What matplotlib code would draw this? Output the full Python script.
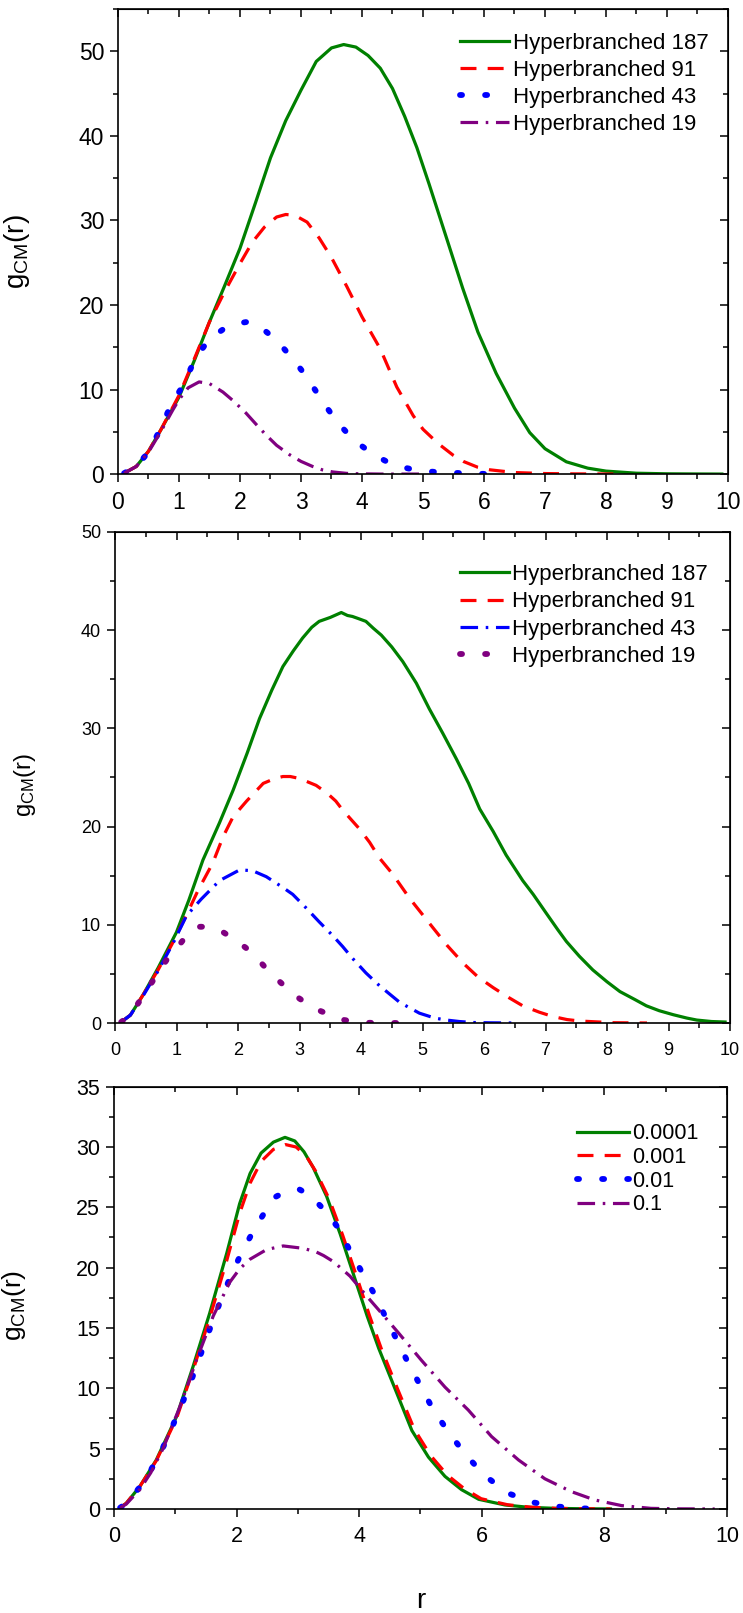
import matplotlib
matplotlib.use("Agg")
import matplotlib.pyplot as plt
from matplotlib.ticker import MultipleLocator

plt.rcParams['font.family'] = ['Liberation Sans', 'DejaVu Sans']
plt.rcParams['mathtext.fontset'] = 'custom'
plt.rcParams['mathtext.rm'] = 'Liberation Sans'
plt.rcParams['mathtext.it'] = 'Liberation Sans:italic'

# ---------------- Panel 1 data ----------------
p1_labels = ["Hyperbranched 187", "Hyperbranched 91", "Hyperbranched 43", "Hyperbranched 19"]
p1_r187 = [0.1, 0.3, 0.5, 0.7, 1.0, 1.25, 1.5, 1.75, 2.0, 2.25, 2.5, 2.75, 3.0, 3.25, 3.5, 3.7, 3.9, 4.1, 4.3,
           4.5, 4.7, 4.9, 5.1, 5.4, 5.65, 5.9, 6.2, 6.5, 6.75, 7.0, 7.35, 7.7, 8.0, 8.5, 9.0, 9.5, 9.9]
p1_g187 = [0.1, 0.9, 2.7, 5.2, 9.1, 13.4, 18.0, 22.3, 26.7, 32.0, 37.4, 41.8, 45.4, 48.8, 50.4, 50.8, 50.5, 49.5, 48.0,
           45.6, 42.3, 38.6, 34.3, 27.6, 22.0, 16.8, 11.9, 7.8, 4.9, 3.0, 1.45, 0.7, 0.35, 0.1, 0.03, 0.01, 0.0]
p1_r91 = [0.1, 0.3, 0.5, 0.7, 1.0, 1.25, 1.5, 1.75, 2.0, 2.2, 2.4, 2.6, 2.75, 2.9, 3.1, 3.3, 3.5, 3.75, 4.0, 4.3,
          4.57, 4.84, 5.0, 5.25, 5.5, 5.66, 5.9, 6.1, 6.5, 7.0, 7.5, 8.2]
p1_g91 = [0.1, 0.9, 2.7, 5.2, 9.3, 13.6, 18.0, 21.6, 24.9, 27.4, 29.2, 30.4, 30.7, 30.6, 29.8, 27.9, 25.6, 22.2, 18.6,
          14.8, 10.3, 6.9, 5.3, 3.6, 2.2, 1.5, 0.8, 0.5, 0.18, 0.06, 0.02, 0.0]
p1_r43 = [0.1, 0.3, 0.5, 0.7, 0.87, 1.06, 1.27, 1.5, 1.74, 1.95, 2.12, 2.3, 2.52, 2.7, 2.88, 3.05, 3.18, 3.32, 3.45,
          3.6, 3.79, 4.0, 4.19, 4.4, 4.57, 4.8, 4.96, 5.2, 5.36, 5.74, 6.1]
p1_g43 = [0.1, 0.9, 2.6, 5.4, 8.2, 10.4, 13.7, 16.0, 17.2, 17.8, 18.0, 17.6, 16.3, 15.0, 13.5, 11.9, 10.5, 9.0, 7.6,
          6.1, 4.6, 3.3, 2.3, 1.5, 0.95, 0.6, 0.4, 0.25, 0.18, 0.08, 0.0]
p1_r19 = [0.1, 0.3, 0.5, 0.7, 0.9, 1.0, 1.15, 1.33, 1.5, 1.72, 1.9, 2.1, 2.3, 2.43, 2.6, 2.81, 3.0, 3.19, 3.35, 3.52,
          3.75, 3.96, 4.3, 4.6, 5.0]
p1_g19 = [0.1, 0.9, 2.6, 5.0, 7.6, 8.8, 10.2, 10.9, 10.7, 9.7, 8.6, 7.2, 5.6, 4.6, 3.4, 2.3, 1.5, 0.9, 0.5, 0.25,
          0.08, 0.03, 0.0, 0.0, 0.0]

# ---------------- Panel 2 data ----------------
p2_labels = ["Hyperbranched 187", "Hyperbranched 91", "Hyperbranched 43", "Hyperbranched 19"]
p2_r187 = [0.1, 0.25, 0.46, 0.7, 1.0, 1.2, 1.43, 1.7, 1.92, 2.15, 2.35, 2.55, 2.73, 2.9, 3.05, 3.2, 3.32, 3.5, 3.68,
           3.78, 3.86, 3.95, 4.08, 4.2, 4.33, 4.5, 4.68, 4.9, 5.11, 5.33, 5.55, 5.75, 5.93, 6.15, 6.36, 6.63, 6.8,
           7.01, 7.2, 7.34, 7.55, 7.77, 8.0, 8.21, 8.45, 8.64, 8.85, 9.08, 9.3, 9.46, 9.7, 9.92]
p2_g187 = [0.1, 0.8, 2.9, 5.6, 9.25, 12.5, 16.6, 20.4, 23.7, 27.5, 31.0, 33.9, 36.3, 37.9, 39.2, 40.3, 40.9, 41.3,
           41.8, 41.5, 41.4, 41.2, 40.9, 40.2, 39.5, 38.3, 36.8, 34.6, 32.0, 29.5, 26.9, 24.4, 21.8, 19.5, 17.1,
           14.5, 13.1, 11.2, 9.5, 8.3, 6.8, 5.4, 4.2, 3.2, 2.4, 1.75, 1.25, 0.84, 0.5, 0.3, 0.15, 0.1]
p2_r91 = [0.1, 0.25, 0.46, 0.7, 0.95, 1.14, 1.35, 1.59, 1.76, 1.92, 2.14, 2.41, 2.6, 2.73, 2.85, 3.0, 3.27, 3.45,
          3.59, 3.70, 3.97, 4.14, 4.3, 4.51, 4.79, 5.17, 5.4, 5.66, 5.9, 6.15, 6.4, 6.63, 6.9, 7.12, 7.35, 7.56,
          8.1, 8.65]
p2_g91 = [0.1, 0.8, 2.9, 5.4, 8.3, 10.7, 13.5, 16.3, 19.0, 21.0, 22.6, 24.4, 24.9, 25.1, 25.1, 24.9, 24.2, 23.4,
          22.6, 21.7, 19.8, 18.4, 16.8, 15.2, 12.7, 9.7, 7.9, 6.1, 4.7, 3.6, 2.6, 1.75, 1.1, 0.66, 0.35, 0.2,
          0.03, 0.0]
p2_r43 = [0.1, 0.25, 0.46, 0.7, 0.95, 1.16, 1.4, 1.7, 2.03, 2.24, 2.46, 2.73, 2.89, 3.11, 3.32, 3.54, 3.7, 3.86,
          4.08, 4.3, 4.63, 4.95, 5.2, 5.39, 5.6, 5.82, 6.1, 6.5]
p2_g43 = [0.1, 0.8, 2.8, 5.3, 8.2, 10.9, 12.6, 14.5, 15.6, 15.5, 14.9, 13.8, 13.1, 11.7, 10.3, 8.9, 7.8, 6.6, 5.1,
          3.8, 2.1, 1.0, 0.5, 0.3, 0.15, 0.05, 0.02, 0.0]
p2_r19 = [0.1, 0.25, 0.46, 0.7, 0.9, 1.04, 1.2, 1.38, 1.55, 1.77, 1.95, 2.16, 2.35, 2.54, 2.75, 2.95, 3.15, 3.35,
          3.55, 3.73, 3.95, 4.14, 4.5, 4.9]
p2_g19 = [0.1, 0.8, 2.8, 5.1, 7.0, 7.9, 9.2, 9.8, 9.8, 9.2, 8.5, 7.5, 6.3, 5.0, 3.8, 2.7, 1.85, 1.2, 0.7, 0.3,
          0.1, 0.02, 0.0, 0.0]

# ---------------- Panel 3 data ----------------
p3_labels = ["0.0001", "0.001", "0.01", "0.1"]
p3_r1 = [0.1, 0.2, 0.42, 0.69, 1.02, 1.29, 1.56, 1.84, 2.05, 2.22, 2.4, 2.6, 2.79, 2.95, 3.1, 3.25, 3.47, 3.69,
         3.91, 4.13, 4.32, 4.59, 4.86, 5.13, 5.4, 5.67, 5.95, 6.38, 6.76, 7.2, 7.6, 8.1]
p3_g1 = [0.1, 0.47, 1.85, 4.06, 7.65, 11.8, 16.2, 21.2, 25.3, 27.8, 29.5, 30.4, 30.8, 30.5, 29.6, 28.3, 25.9, 22.8,
         19.4, 16.0, 13.3, 9.9, 6.5, 4.3, 2.7, 1.6, 0.8, 0.33, 0.14, 0.05, 0.02, 0.0]
p3_r2 = [0.1, 0.2, 0.42, 0.69, 1.02, 1.29, 1.56, 1.84, 2.05, 2.22, 2.4, 2.6, 2.8, 2.97, 3.13, 3.29, 3.51, 3.73,
         3.95, 4.17, 4.36, 4.63, 4.9, 5.17, 5.44, 5.71, 5.99, 6.42, 6.8, 7.2, 7.6, 8.1]
p3_g2 = [0.1, 0.47, 1.85, 4.0, 7.5, 11.5, 15.8, 20.6, 24.5, 27.0, 28.8, 29.8, 30.2, 30.0, 29.3, 28.0, 25.7, 22.7,
         19.4, 16.0, 13.3, 9.9, 6.6, 4.4, 2.8, 1.7, 0.85, 0.35, 0.15, 0.05, 0.02, 0.0]
p3_r3 = [0.1, 0.2, 0.42, 0.61, 0.8, 0.95, 1.1, 1.2, 1.4, 1.57, 1.72, 1.88, 2.05, 2.3, 2.61, 2.8, 3.02, 3.2, 3.39,
         3.66, 3.86, 4.06, 4.26, 4.44, 4.62, 4.8, 5.0, 5.2, 5.44, 5.72, 6.04, 6.43, 6.83, 7.23, 7.62, 8.0]
p3_g3 = [0.1, 0.45, 1.8, 3.3, 5.1, 6.8, 8.6, 9.8, 12.6, 15.0, 17.0, 19.0, 20.9, 23.3, 25.8, 26.3, 26.5, 26.0,
         25.0, 23.3, 21.3, 19.5, 17.7, 15.8, 13.95, 12.1, 10.2, 8.3, 6.5, 4.6, 2.8, 1.3, 0.55, 0.2, 0.05, 0.0]
p3_r4 = [0.1, 0.2, 0.42, 0.6, 0.8, 1.07, 1.35, 1.62, 1.89, 2.05, 2.22, 2.49, 2.76, 3.09, 3.3, 3.42, 3.58, 3.85,
         4.13, 4.37, 4.64, 5.02, 5.4, 5.78, 6.16, 6.6, 7.03, 7.46, 7.84, 8.28, 8.76, 9.2, 9.8]
p3_g4 = [0.1, 0.4, 1.6, 3.0, 5.0, 8.4, 12.4, 16.0, 18.8, 19.9, 20.7, 21.5, 21.8, 21.6, 21.3, 21.0, 20.5, 19.3,
         17.6, 16.2, 14.6, 12.3, 10.1, 8.2, 6.0, 4.06, 2.5, 1.44, 0.75, 0.28, 0.05, 0.01, 0.0]

GREEN = '#008000'
RED = '#ff0000'
BLUE = '#0000ff'
PURPLE = '#800080'

SOLID = dict(color=GREEN, lw=2.3, ls='-')
DASH = dict(color=RED, lw=2.3, dashes=(5, 3.5))
DOT = dict(color=BLUE, lw=4.2, dashes=(0.35, 3.95), dash_capstyle='round')
DASHDOT = dict(color=PURPLE, lw=2.3, dashes=(5.5, 2.4, 0.8, 2.4))
DOT2 = dict(color=PURPLE, lw=4.2, dashes=(0.35, 3.95), dash_capstyle='round')
DASHDOT2 = dict(color=BLUE, lw=2.3, dashes=(5.5, 2.4, 0.8, 2.4))

fig = plt.figure(figsize=(7.43, 16.13), dpi=100)


def style_axes(ax, xmaj, xmin, ymaj, ymin, xlim, ylim, tfs):
    ax.set_xlim(*xlim)
    ax.set_ylim(*ylim)
    ax.xaxis.set_major_locator(MultipleLocator(xmaj))
    ax.xaxis.set_minor_locator(MultipleLocator(xmin))
    ax.yaxis.set_major_locator(MultipleLocator(ymaj))
    ax.yaxis.set_minor_locator(MultipleLocator(ymin))
    for s in ax.spines.values():
        s.set_linewidth(1.2)
    ax.tick_params(which='major', direction='out', length=6, width=1.1, labelsize=tfs, pad=4)
    ax.tick_params(which='minor', direction='out', length=3.5, width=1.1)
    sx = ax.secondary_xaxis('top')
    sx.xaxis.set_major_locator(MultipleLocator(xmaj))
    sx.xaxis.set_minor_locator(MultipleLocator(xmin))
    sx.tick_params(which='major', direction='in', length=6, width=1.1, labeltop=False)
    sx.tick_params(which='minor', direction='in', length=3.5, width=1.1)
    sy = ax.secondary_yaxis('right')
    sy.yaxis.set_major_locator(MultipleLocator(ymaj))
    sy.yaxis.set_minor_locator(MultipleLocator(ymin))
    sy.tick_params(which='major', direction='in', length=6, width=1.1, labelright=False)
    sy.tick_params(which='minor', direction='in', length=3.5, width=1.1)


ylab = r'$\mathregular{g_{CM}(r)}$'

# Panel 1
ax1 = fig.add_axes([0.1588, 0.7061, 0.8210, 0.2883])
ax1.plot(p1_r187, p1_g187, label=p1_labels[0], **SOLID)
ax1.plot(p1_r91, p1_g91, label=p1_labels[1], **DASH)
ax1.plot(p1_r43, p1_g43, label=p1_labels[2], **DOT)
ax1.plot(p1_r19, p1_g19, label=p1_labels[3], **DASHDOT)
style_axes(ax1, 1, 0.5, 10, 5, (0, 10), (0, 55), 16.5)
ax1.tick_params(axis='x', pad=6)
ax1.set_ylabel(ylab, fontsize=20)
ax1.yaxis.set_label_coords(-0.141, 0.478)
ax1.legend(loc='upper right', bbox_to_anchor=(0.968, 0.948), frameon=False, fontsize=16,
           handlelength=2.2, handletextpad=0.15, labelspacing=0.26, borderpad=0, borderaxespad=0)

# Panel 2
ax2 = fig.add_axes([115 / 743, 1 - 1023 / 1613, 615 / 743, 491 / 1613])
ax2.plot(p2_r187, p2_g187, label=p2_labels[0], **SOLID)
ax2.plot(p2_r91, p2_g91, label=p2_labels[1], **DASH)
ax2.plot(p2_r43, p2_g43, label=p2_labels[2], **DASHDOT2)
ax2.plot(p2_r19, p2_g19, label=p2_labels[3], **DOT2)
style_axes(ax2, 1, 0.5, 10, 5, (0, 10), (0, 50), 13)
ax2.tick_params(axis='x', pad=8)
ax2.set_ylabel(ylab, fontsize=17)
ax2.yaxis.set_label_coords(-0.125, 0.484)
ax2.legend(loc='upper right', bbox_to_anchor=(0.964, 0.935), frameon=False, fontsize=16,
           handlelength=2.2, handletextpad=0.15, labelspacing=0.29, borderpad=0, borderaxespad=0)

# Panel 3
ax3 = fig.add_axes([0.1534, 0.0645, 0.8250, 0.2618])
ax3.plot(p3_r1, p3_g1, label=p3_labels[0], **SOLID)
ax3.plot(p3_r2, p3_g2, label=p3_labels[1], **DASH)
ax3.plot(p3_r3, p3_g3, label=p3_labels[2], **DOT)
ax3.plot(p3_r4, p3_g4, label=p3_labels[3], **DASHDOT)
style_axes(ax3, 2, 1, 5, 2.5, (0, 10), (0, 35), 15.5)
ax3.tick_params(axis='x', pad=6)
ax3.set_ylabel(ylab, fontsize=19)
ax3.yaxis.set_label_coords(-0.14, 0.483)
ax3.set_xlabel('r', fontsize=20, labelpad=30)
ax3.legend(loc='upper right', bbox_to_anchor=(0.954, 0.913), frameon=False, fontsize=15.5,
           handlelength=2.4, handletextpad=0.15, labelspacing=0.12, borderpad=0, borderaxespad=0)

fig.savefig('out.png', dpi=100)
